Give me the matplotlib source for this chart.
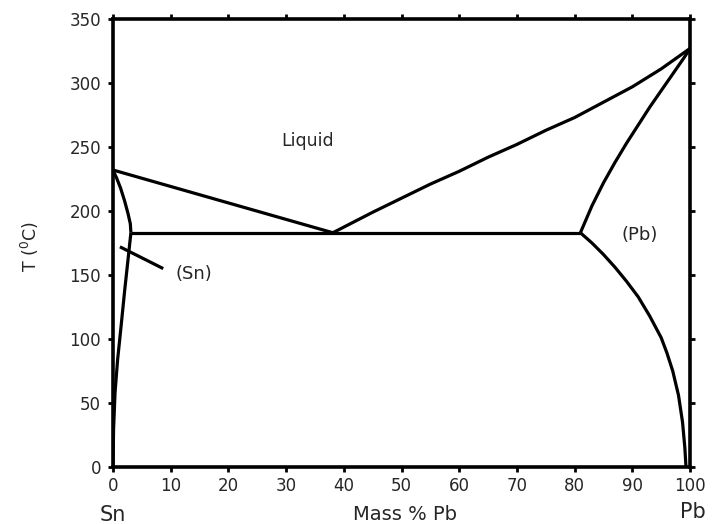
import matplotlib
matplotlib.use("Agg")
import matplotlib.pyplot as plt
from matplotlib.transforms import blended_transform_factory

plt.rcParams['font.family'] = ['DejaVu Sans']

# Liquidus (Sn side, straight) and Pb side
liq_sn_x = [0, 38.1]
liq_sn_t = [232, 183]
liq_pb_x = [38.1, 45, 50, 55, 60, 65, 70, 75, 80, 85, 90, 95, 100]
liq_pb_t = [183, 199, 210, 221, 231, 242, 252, 263, 273, 285, 297, 311, 327]
# Eutectic isotherm
eut_x = [3.1, 81.0]
eut_t = [183, 183]
# Sn-rich solidus and solvus
sol_sn_x = [0, 0.6, 1.3, 2.0, 2.6, 3.0, 3.1]
sol_sn_t = [232, 226, 218, 208, 198, 190, 183]
solv_sn_x = [3.1, 2.6, 2.0, 1.4, 0.8, 0.35, 0.1, 0]
solv_sn_t = [183, 162, 137, 110, 84, 58, 30, 0]
# Pb-rich solidus and solvus
sol_pb_x = [81, 83, 85, 87, 89, 91, 93, 95, 97, 99, 100]
sol_pb_t = [183, 204, 222, 238, 253, 267, 281, 294, 307, 320, 327]
solv_pb_x = [81, 83, 85, 87, 89, 91, 93, 95, 96, 97, 98, 98.7, 99.1, 99.3]
solv_pb_t = [183, 175, 166, 156, 145, 133, 118, 101, 89, 75, 56, 35, 15, 0]
# Leader line for (Sn)
lead_x = [1.2, 8.7]
lead_t = [172, 155]

xticks = list(range(0, 101, 10))
yticks = list(range(0, 351, 50))

fig = plt.figure(figsize=(7.13, 5.24), dpi=100)
ax = fig.add_axes([0.1585, 0.1088, 0.8093, 0.855])

lw = 2.3
for xs, ts in [(liq_sn_x, liq_sn_t), (liq_pb_x, liq_pb_t), (eut_x, eut_t),
               (sol_sn_x, sol_sn_t), (solv_sn_x, solv_sn_t),
               (sol_pb_x, sol_pb_t), (solv_pb_x, solv_pb_t), (lead_x, lead_t)]:
    ax.plot(xs, ts, color='black', lw=lw, solid_capstyle='butt', solid_joinstyle='round')

ax.set_xlim(0, 100)
ax.set_ylim(0, 350)
ax.set_xticks(xticks)
ax.set_yticks(yticks)
for s in ax.spines.values():
    s.set_linewidth(2.6)
tc = '#262626'
ax.tick_params(axis='both', direction='out', length=3.5, width=2.0, pad=5,
               labelsize=12, labelcolor=tc, top=True, right=True,
               labeltop=False, labelright=False)
ax.tick_params(axis='x', pad=4)

ax.text(33.8, 255, 'Liquid', fontsize=12.5, color=tc, ha='center', va='center')
ax.text(14.0, 151, '(Sn)', fontsize=13, color=tc, ha='center', va='center')
ax.text(91.2, 181, '(Pb)', fontsize=13, color=tc, ha='center', va='center')

tr = blended_transform_factory(ax.transData, ax.transAxes)
ax.text(0, -0.107, 'Sn', fontsize=15, color=tc, ha='center', va='center', transform=tr)
ax.text(100.5, -0.100, 'Pb', fontsize=15, color=tc, ha='center', va='center', transform=tr)
ax.text(50.6, -0.105, 'Mass % Pb', fontsize=14, color=tc, ha='center', va='center', transform=tr)

fig.text(30 / 713, 1 - 247 / 524, r'T ($^{\mathrm{0}}$C)', fontsize=12.5, color=tc,
         rotation=90, ha='center', va='center')

fig.savefig('out.png', dpi=100)
